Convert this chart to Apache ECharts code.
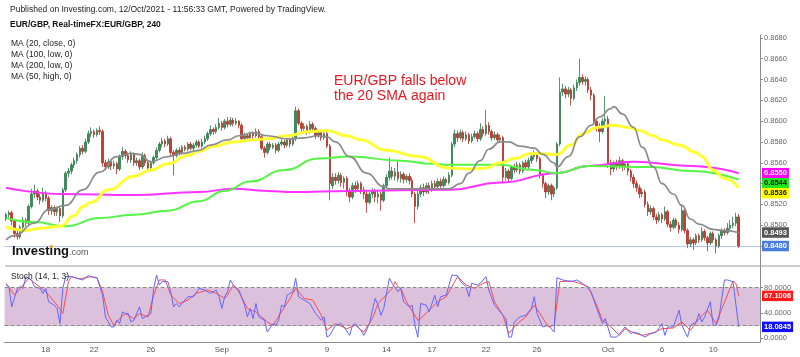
<!DOCTYPE html>
<html><head><meta charset="utf-8">
<script src="https://cdn.jsdelivr.net/npm/echarts@6/dist/echarts.min.js"></script>
<style>html,body{margin:0;padding:0;background:#fff}#c{width:800px;height:357px}</style>
</head><body><div id="c"></div>
<script>
// EUR/GBP 4h candles, values in pips (price x 10000): [open, close, low, high]
const candles = [
[8506,8510,8504,8512],[8510,8512,8507,8514],[8512,8504,8500,8514],[8504,8492,8488,8506],[8492,8489,8486,8495],
[8489,8498,8487,8500],[8498,8505,8496,8508],[8505,8502,8499,8507],[8502,8518,8500,8520],[8518,8530,8516,8535],
[8530,8533,8526,8539],[8533,8527,8524,8535],[8527,8524,8520,8530],[8524,8531,8522,8536],[8531,8526,8523,8533],
[8526,8514,8510,8528],[8514,8517,8510,8519],[8517,8513,8509,8519],[8513,8516,8509,8518],[8516,8509,8503,8518],
[8509,8534,8507,8536],[8534,8550,8532,8552],[8550,8552,8546,8555],[8552,8558,8549,8560],[8558,8562,8555,8565],
[8562,8568,8559,8570],[8568,8574,8565,8576],[8574,8571,8568,8577],[8571,8580,8569,8583],[8580,8588,8578,8591],
[8588,8590,8585,8594],[8590,8587,8584,8592],[8587,8591,8585,8593],[8591,8590,8587,8595],[8590,8560,8556,8592],
[8560,8556,8553,8563],[8556,8561,8554,8564],[8561,8557,8553,8563],[8557,8559,8554,8562],[8559,8554,8549,8561],
[8554,8566,8552,8568],[8566,8571,8563,8575],[8571,8567,8564,8573],[8567,8563,8560,8570],[8563,8568,8560,8571],
[8568,8560,8557,8570],[8560,8562,8557,8565],[8562,8556,8553,8564],[8556,8567,8554,8570],[8567,8560,8557,8569],
[8560,8555,8552,8562],[8555,8560,8553,8562],[8560,8565,8558,8567],[8565,8572,8563,8575],[8572,8578,8570,8580],
[8578,8581,8575,8584],[8581,8578,8575,8583],[8578,8583,8576,8586],[8583,8570,8567,8585],[8570,8567,8548,8572],
[8567,8572,8565,8574],[8572,8570,8567,8575],[8570,8575,8568,8577],[8575,8573,8571,8577],[8573,8578,8571,8580],
[8578,8574,8572,8580],[8574,8577,8572,8579],[8577,8580,8575,8582],[8580,8576,8574,8582],[8576,8580,8574,8583],
[8580,8583,8578,8586],[8583,8588,8581,8590],[8588,8592,8586,8596],[8592,8590,8587,8594],[8590,8594,8588,8597],
[8594,8598,8592,8603],[8598,8594,8591,8600],[8594,8600,8592,8602],[8600,8597,8594,8604],[8597,8601,8595,8604],
[8601,8598,8595,8603],[8598,8600,8596,8603],[8600,8596,8593,8601],[8596,8583,8580,8598],[8583,8586,8581,8589],
[8586,8584,8581,8588],[8584,8588,8582,8590],[8588,8586,8583,8590],[8586,8590,8584,8593],[8590,8585,8582,8592],
[8585,8574,8572,8587],[8574,8570,8565,8576],[8570,8578,8568,8580],[8578,8575,8572,8580],[8575,8577,8573,8579],
[8577,8572,8569,8579],[8572,8578,8570,8580],[8578,8580,8576,8583],[8580,8577,8574,8582],[8577,8582,8575,8584],
[8582,8578,8575,8584],[8578,8583,8576,8586],[8583,8610,8581,8614],[8610,8598,8596,8612],[8598,8593,8590,8600],
[8593,8595,8590,8598],[8595,8590,8587,8597],[8590,8597,8588,8600],[8597,8593,8590,8599],[8593,8586,8583,8595],
[8586,8589,8584,8591],[8589,8584,8581,8591],[8584,8588,8582,8590],[8588,8576,8574,8590],[8576,8540,8524,8578],
[8538,8546,8535,8550],[8546,8543,8539,8550],[8543,8548,8540,8551],[8548,8541,8537,8550],[8541,8545,8535,8547],
[8545,8533,8528,8547],[8533,8527,8522,8536],[8527,8538,8525,8541],[8538,8535,8531,8542],[8535,8540,8532,8543],
[8540,8534,8530,8542],[8534,8530,8525,8537],[8530,8522,8512,8533],[8522,8530,8520,8532],[8530,8533,8526,8536],
[8533,8527,8522,8535],[8527,8530,8521,8533],[8530,8524,8514,8532],[8524,8538,8522,8540],[8538,8546,8535,8549],
[8546,8552,8543,8565],[8552,8547,8544,8556],[8547,8551,8543,8555],[8551,8545,8542,8563],[8545,8549,8541,8552],
[8549,8544,8540,8551],[8544,8547,8541,8549],[8547,8543,8539,8550],[8543,8530,8527,8546],[8530,8518,8502,8532],
[8518,8530,8515,8533],[8530,8536,8527,8539],[8536,8532,8528,8540],[8532,8538,8530,8541],[8538,8534,8530,8541],
[8534,8540,8532,8543],[8540,8537,8533,8543],[8537,8542,8534,8545],[8542,8538,8535,8545],[8538,8544,8536,8547],
[8544,8541,8538,8546],[8541,8548,8539,8551],[8548,8578,8546,8580],[8578,8588,8575,8592],[8588,8584,8580,8591],
[8584,8589,8582,8592],[8589,8583,8580,8591],[8583,8587,8581,8590],[8587,8581,8578,8589],[8581,8585,8579,8588],
[8585,8588,8583,8591],[8588,8583,8580,8590],[8583,8592,8581,8598],[8592,8588,8585,8595],[8588,8596,8586,8611],
[8596,8590,8587,8599],[8590,8584,8581,8592],[8584,8587,8582,8590],[8587,8582,8579,8589],[8582,8584,8580,8587],
[8584,8546,8540,8586],[8546,8552,8543,8555],[8552,8545,8541,8554],[8545,8556,8543,8558],[8556,8553,8550,8559],
[8553,8558,8551,8561],[8558,8552,8549,8560],[8552,8560,8550,8562],[8560,8556,8553,8563],[8556,8562,8554,8565],
[8562,8566,8559,8569],[8566,8568,8563,8572],[8568,8564,8561,8570],[8564,8548,8545,8566],[8548,8540,8536,8550],
[8540,8532,8526,8542],[8532,8538,8529,8540],[8538,8530,8524,8540],[8530,8536,8527,8538],[8536,8578,8534,8580],
[8578,8628,8576,8642],[8628,8631,8624,8636],[8631,8626,8622,8634],[8626,8630,8623,8633],[8630,8622,8615,8632],
[8622,8632,8620,8635],[8632,8637,8629,8640],[8637,8642,8634,8660],[8642,8638,8635,8645],[8638,8640,8634,8643],
[8640,8630,8627,8642],[8630,8625,8620,8633],[8625,8600,8597,8627],[8600,8595,8590,8603],[8595,8590,8580,8598],
[8590,8600,8588,8603],[8600,8602,8595,8624],[8602,8560,8555,8605],[8560,8554,8548,8563],[8554,8560,8551,8562],
[8560,8557,8553,8563],[8557,8562,8554,8566],[8562,8556,8552,8564],[8556,8559,8553,8561],[8559,8552,8548,8561],
[8552,8546,8542,8554],[8546,8540,8536,8549],[8540,8536,8532,8543],[8536,8530,8526,8539],[8530,8532,8527,8535],
[8532,8520,8517,8534],[8520,8513,8509,8523],[8513,8516,8510,8519],[8516,8508,8505,8518],[8508,8505,8501,8511],
[8505,8510,8503,8513],[8510,8506,8502,8512],[8506,8513,8504,8518],[8513,8501,8498,8515],[8501,8498,8494,8504],
[8498,8505,8496,8507],[8505,8500,8497,8507],[8500,8496,8492,8503],[8496,8514,8494,8520],[8514,8495,8492,8516],
[8495,8482,8478,8497],[8482,8486,8479,8489],[8486,8483,8476,8488],[8483,8490,8481,8492],[8490,8486,8483,8492],
[8486,8494,8484,8498],[8494,8488,8485,8496],[8488,8483,8475,8490],[8483,8492,8481,8494],[8492,8486,8483,8494],
[8486,8480,8473,8488],[8480,8490,8478,8492],[8490,8495,8487,8497],[8495,8493,8490,8497],[8493,8497,8491,8502],
[8497,8500,8494,8505],[8500,8502,8497,8508],[8502,8508,8499,8512],[8508,8480,8478,8511]
];
// moving averages: [candle index, value in pips]
const ma20close = [[0,8486],[3,8490],[10,8502],[15,8515],[21,8519],[27,8534],[33,8551],[39,8566],[44,8569],[47,8568],[51,8561],[57,8566],[62,8569],[68,8572],[72,8577],[78,8582],[82,8586],[87,8589],[92,8586],[99,8583],[105,8584],[110,8586],[113,8585],[116,8580],[121,8566],[127,8550],[133,8537],[135,8535],[146,8535],[156,8535],[160,8540],[163,8550],[167,8562],[170,8573],[174,8580],[177,8580],[181,8576],[186,8574],[189,8568],[193,8560],[194,8556],[198,8566],[202,8585],[206,8596],[209,8604],[213,8612],[214,8614],[217,8607],[221,8594],[224,8575],[228,8556],[231,8540],[235,8530],[238,8519],[241,8506],[244,8501],[249,8496],[252,8495],[258,8493]];
const ma50high = [[0,8498],[7,8495],[12,8497],[19,8499],[24,8509],[27,8518],[30,8522],[36,8534],[45,8547],[51,8553],[57,8559],[64,8567],[68,8571],[73,8576],[80,8580],[87,8582],[92,8583],[99,8586],[107,8590],[113,8591],[120,8586],[125,8582],[134,8572],[145,8566],[156,8555],[164,8554],[169,8555],[174,8560],[179,8564],[185,8569],[188,8569],[194,8568],[199,8577],[203,8588],[208,8594],[214,8596],[219,8594],[223,8591],[228,8586],[231,8582],[237,8577],[243,8570],[245,8566],[249,8553],[253,8545],[258,8536]];
const ma100low = [[0,8507],[10,8503],[21,8499],[33,8507],[45,8510],[57,8514],[68,8523],[77,8533],[86,8542],[98,8553],[110,8564],[121,8566],[139,8562],[150,8559],[156,8558],[170,8558],[174,8558],[186,8553],[194,8550],[205,8557],[227,8556],[241,8552],[258,8544]];
const ma200low = [[0,8536],[20,8530],[45,8529],[68,8532],[80,8535],[92,8533],[101,8532],[121,8533],[156,8534],[174,8541],[194,8550],[205,8557],[221,8561],[241,8557],[258,8550]];
// Stochastic (14,1,3): [candle index, value]
const stochK = [[0,84.3],[1,81.6],[2,49.7],[4,78.9],[5,81.6],[6,78.9],[7,97.5],[9,92.2],[10,81.6],[12,78.9],[13,71],[14,78.9],[15,57.7],[17,52.4],[18,47.1],[19,23.2],[20,78.9],[21,97.5],[23,97.5],[25,94.9],[27,92.2],[29,99.1],[31,95.9],[32,95.9],[34,68.3],[35,33.8],[37,17.9],[38,17.9],[39,28.5],[40,23.2],[41,41.8],[42,39.1],[43,39.1],[44,25.8],[45,28.5],[47,49.7],[48,31.2],[50,36.5],[51,39.1],[52,78.9],[53,100],[54,84.3],[55,89.6],[57,89.6],[58,73.6],[59,49.7],[60,55],[61,49.7],[62,55],[64,65.7],[66,65.7],[68,78.9],[70,76.3],[72,71],[74,76.3],[75,65.7],[76,47.1],[77,65.7],[78,73.6],[79,92.2],[80,84.3],[82,76.3],[84,52.4],[85,33.8],[86,47.1],[87,31.2],[88,55],[89,33.8],[91,28.5],[92,9.9],[94,23.2],[95,20.5],[96,28.5],[97,52.4],[98,49.7],[99,68.3],[101,73.6],[102,94.9],[103,65.7],[104,63],[105,60.4],[107,55],[109,39.1],[111,28.5],[112,33.8],[113,1.9],[114,4.6],[115,12.6],[116,20.5],[118,23.2],[119,17.9],[121,4.6],[122,20.5],[123,23.2],[124,17.9],[125,12.6],[126,4.6],[128,23.2],[129,44.4],[130,63],[131,52.4],[132,36.5],[133,47.1],[135,94.9],[136,86.9],[138,73.6],[139,78.9],[140,57.7],[142,49.7],[143,52.4],[144,20.5],[145,1.9],[146,55],[148,52.4],[149,41.8],[151,68.3],[152,49.7],[153,65.7],[155,68.3],[157,100],[159,99.1],[160,89.6],[162,81.6],[163,65.7],[164,86.9],[166,84.3],[167,86.9],[169,97.5],[170,76.3],[172,52.4],[174,41.8],[176,31.2],[177,1.9],[178,1.9],[179,25.8],[181,33.8],[183,36.5],[185,47.1],[186,65.7],[187,39.1],[189,17.9],[191,20.5],[193,9.9],[194,95.9],[196,92.2],[199,89.6],[201,92.2],[203,86.9],[205,78.9],[206,73.6],[208,47.1],[210,23.2],[211,31.2],[213,1.9],[215,1.9],[217,12.6],[218,17.9],[220,7.3],[221,9.9],[223,7.3],[225,1.9],[227,7.3],[229,9.9],[231,23.2],[232,4.6],[233,17.9],[235,17.9],[237,44.4],[238,20.5],[240,1.9],[241,20.5],[243,25.8],[244,39.1],[245,25.8],[246,33.8],[248,57.7],[249,20.5],[250,20.5],[251,31.2],[253,92.2],[254,92.2],[256,89.6],[258,18.0845]];
const stochD = [[0,86.9],[3,68.3],[5,78.9],[8,94.9],[11,84.3],[14,73.6],[18,52.4],[20,39.1],[22,89.6],[23,97.5],[26,93.8],[30,97.5],[32,95.9],[34,73.6],[36,36.5],[38,20.5],[40,31.2],[42,39.1],[45,31.2],[47,39.1],[50,33.8],[52,68.3],[54,92.2],[56,92.2],[58,68.3],[61,55],[64,60.4],[67,71],[71,76.3],[74,71],[77,63],[78,68.3],[80,84.3],[82,73.6],[85,47.1],[88,41.8],[92,25.8],[94,20.5],[97,41.8],[100,63],[102,78.9],[105,63],[108,60.4],[111,36.5],[113,12.6],[116,23.2],[120,15.2],[123,20.5],[126,9.9],[129,31.2],[131,55],[136,78.9],[137,89.6],[138,81.6],[139,78.9],[141,57.7],[145,28.5],[146,31.2],[149,44.4],[152,57.7],[155,65.7],[159,97.5],[162,84.3],[165,78.9],[168,86.9],[170,89.6],[172,57.7],[175,36.5],[177,7.3],[180,23.2],[183,33.8],[186,52.4],[188,39.1],[191,17.9],[193,20.5],[195,89.6],[199,90.6],[202,86.9],[205,81.6],[208,52.4],[210,28.5],[213,17.9],[216,4.6],[218,15.2],[221,8.8],[224,4.6],[228,8.8],[231,15.2],[235,16.3],[238,25.8],[241,12.6],[244,31.2],[247,44.4],[250,23.2],[254,68.3],[256,90.6],[257,86.9],[258,67.1006]];
// axis ticks
const dateTickIdx  = [14,31,51,76,93,113,134,150,169,187,212,231,249];
const dateTickText = ['18','22','26','Sep','5','9','14','17','22','26','Oct','6','10'];
const priceTicks = [8480,8500,8520,8540,8560,8580,8600,8620,8640,8660,8680];
const stochTicks = [0,40,80];
const stochBand = [20,80];
const maLegend = ['MA (20, close, 0)','MA (100, low, 0)','MA (200, low, 0)','MA (50, high, 0)'];

const nSlots = 266;
const FONT = 'Liberation Sans, Arial, sans-serif';
const fmtPrice = v => (v/10000).toFixed(4);
const chart = echarts.init(document.getElementById('c'), null, {renderer:'canvas'});
const cats = Array.from({length:nSlots}, (_, i) => String(i));
const last = a => a[a.length-1];

const maLine = (data, color, width, z) => ({
  type:'line', xAxisIndex:1, yAxisIndex:0, data, showSymbol:false, smooth:0.5, smoothMonotone:'x',
  lineStyle:{color, width}, z, silent:true
});

chart.setOption({
  animation:false,
  backgroundColor:'#ffffff',
  textStyle:{fontFamily:FONT},
  grid:[
    {left:4.6, right:40, top:35, height:230.7},
    {left:4.6, right:40, top:266, height:76}
  ],
  xAxis:[
    {type:'category', gridIndex:0, data:cats, boundaryGap:true, axisLine:{show:false}, axisTick:{show:false}, axisLabel:{show:false}, splitLine:{show:false}},
    {type:'value', gridIndex:0, min:-0.5, max:nSlots-0.5, show:false},
    {type:'value', gridIndex:1, min:-0.5, max:nSlots-0.5,
      axisLine:{show:true, onZero:false, lineStyle:{color:'#8a8a8a', width:1}},
      axisTick:{show:false}, splitLine:{show:false},
      axisLabel:{customValues:dateTickIdx, formatter:v => dateTickText[dateTickIdx.indexOf(Math.round(v))] || '', color:'#555', fontSize:8, margin:4, fontFamily:FONT}}
  ],
  yAxis:[
    {type:'value', gridIndex:0, position:'right', min:8461.1, max:8682.8,
      axisLine:{show:true, onZero:false, lineStyle:{color:'#8a8a8a'}}, splitLine:{show:false},
      axisTick:{show:true, customValues:priceTicks, length:3, lineStyle:{color:'#8a8a8a'}},
      axisLabel:{customValues:priceTicks, formatter:fmtPrice, color:'#666', fontSize:7.5, margin:4, fontFamily:FONT}},
    {type:'value', gridIndex:1, position:'right', min:-5.85, max:114.3,
      axisLine:{show:true, onZero:false, lineStyle:{color:'#8a8a8a'}}, splitLine:{show:false},
      axisTick:{show:true, customValues:stochTicks, length:3, lineStyle:{color:'#8a8a8a'}},
      axisLabel:{customValues:stochTicks, formatter:v => v.toFixed(4), color:'#666', fontSize:7.5, margin:4, fontFamily:FONT}}
  ],
  series:[
    {type:'candlestick', xAxisIndex:0, yAxisIndex:0, data:candles, barWidth:2, z:2,
      itemStyle:{color:'#3c8d5a', color0:'#cc3a30', borderColor:'#2f7a4b', borderColor0:'#b02e26', borderWidth:0.8},
      markLine:{silent:true, symbol:['none','none'], label:{show:false},
        lineStyle:{type:'dotted', color:'#6d8fe6', width:1},
        data:[{yAxis:last(candles)[1]}]}},
    maLine(ma200low, '#ff33ff', 2, 3),
    maLine(ma100low, '#55f545', 2, 3),
    maLine(ma50high, '#ffff33', 3, 4),
    maLine(ma20close, '#8c8c8c', 1.7, 5),
    {type:'line', xAxisIndex:2, yAxisIndex:1, data:stochK, showSymbol:false, lineStyle:{color:'#6464ff', width:1}, z:4, silent:true,
      markArea:{silent:true, itemStyle:{color:'#dcc1dd'}, data:[[{yAxis:stochBand[0]},{yAxis:stochBand[1]}]]},
      markLine:{silent:true, symbol:['none','none'], label:{show:false}, lineStyle:{type:'dashed', color:'#8a8a8a', width:1},
        data:[{yAxis:stochBand[0]},{yAxis:stochBand[1]}]}},
    {type:'line', xAxisIndex:2, yAxisIndex:1, data:stochD, showSymbol:false, lineStyle:{color:'#ff4a4a', width:1}, z:3, silent:true}
  ]
});

// price tags on the right axis, positioned from values, pushed apart when overlapping
const tagDefs = [
  {axis:0, v:last(ma200low)[1],  bg:'#ff00ff', fg:'#ffffff', txt:fmtPrice(last(ma200low)[1])},
  {axis:0, v:last(ma100low)[1],  bg:'#1ee81e', fg:'#111111', txt:fmtPrice(last(ma100low)[1])},
  {axis:0, v:last(ma50high)[1],  bg:'#ffff00', fg:'#111111', txt:fmtPrice(last(ma50high)[1])},
  {axis:0, v:last(ma20close)[1], bg:'#555555', fg:'#ffffff', txt:fmtPrice(last(ma20close)[1])},
  {axis:0, v:last(candles)[1],   bg:'#4a7be0', fg:'#ffffff', txt:fmtPrice(last(candles)[1])},
  {axis:1, v:last(stochD)[1],    bg:'#ff1a1a', fg:'#ffffff', txt:last(stochD)[1].toFixed(4)},
  {axis:1, v:last(stochK)[1],    bg:'#1010ff', fg:'#ffffff', txt:last(stochK)[1].toFixed(4)}
];
tagDefs.forEach(t => { t.y = chart.convertToPixel({yAxisIndex:t.axis}, t.v); });
[0,1].forEach(ax => {
  const arr = tagDefs.filter(t => t.axis === ax).sort((a,b) => a.y - b.y);
  for (let k = 1; k < arr.length; k++) if (arr[k].y < arr[k-1].y + 10) arr[k].y = arr[k-1].y + 10;
});
const rightX = chart.convertToPixel({xAxisIndex:1}, nSlots-0.5);

const graphics = [
  {type:'text', left:10, top:5, style:{text:'Published on Investing.com, 12/Oct/2021 - 11:56:33 GMT, Powered by TradingView.', fill:'#222', fontSize:8.5, fontFamily:FONT}},
  {type:'text', left:10, top:20, style:{text:'EUR/GBP, Real-timeFX:EUR/GBP, 240', fill:'#111', fontSize:8.5, fontWeight:'bold', fontFamily:FONT}},
  {type:'text', left:11, top:277-5, style:{text:'Stoch (14, 1, 3)', fill:'#222', fontSize:8.5, fontFamily:FONT}, z:50},
  {type:'text', left:334, top:74, style:{text:'EUR/GBP falls below\nthe 20 SMA again', fill:'#ea1620', fontSize:14, lineHeight:15, fontFamily:FONT}, z:50},
  {type:'text', left:12, top:245, style:{text:'Investing', fill:'#111', fontSize:13, fontWeight:'bold', fontFamily:FONT}, z:50},
  {type:'text', left:69, top:248.5, style:{text:'.com', fill:'#555', fontSize:9, fontFamily:FONT}, z:50},
  {type:'circle', shape:{cx:51.2, cy:246.6, r:1.5}, style:{fill:'#f39a1e'}, z:51},
  {type:'line', shape:{x1:5, y1:266, x2:800, y2:266}, style:{stroke:'#9a9a9a', lineWidth:1}, z:40}
];
maLegend.forEach((t, k) => graphics.push({type:'text', left:11, top:39.5 + k*10.9, style:{text:t, fill:'#222', fontSize:8.5, fontFamily:FONT}}));
tagDefs.forEach(t => graphics.push({type:'text', x:rightX + 2, y:t.y, z:100,
  style:{text:t.txt, fill:t.fg, backgroundColor:t.bg, padding:[1.5,2,1,2], fontSize:7.5, fontWeight:'bold', fontFamily:FONT, textVerticalAlign:'middle', verticalAlign:'middle'}}));
chart.setOption({graphic:graphics});
</script></body></html>
